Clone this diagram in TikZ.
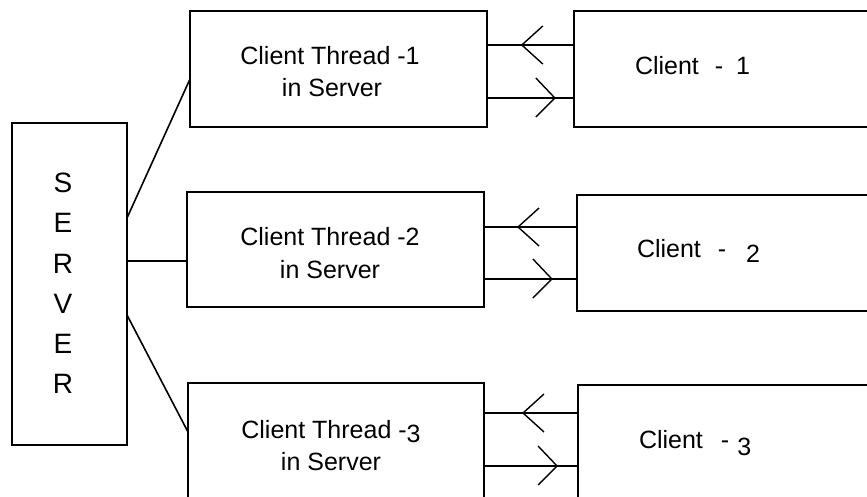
\documentclass[tikz,border=0pt]{standalone}
\usepackage{fontspec}
\setmainfont{Liberation Sans}
\usetikzlibrary{calc}
\begin{document}
\begin{tikzpicture}[x=1pt,y=-1pt,
  every node/.style={inner sep=0pt, outer sep=0pt},
  box/.style={draw, line width=1.8pt, anchor=north west},
  wire/.style={line width=1.6pt},
  txt/.style={font=\fontsize{25}{30}\selectfont},
  bigtxt/.style={font=\fontsize{28}{30}\selectfont},
  chevl/.pic={\draw[line width=1.4pt] (21,-19) -- (0,0) -- (21,19);},
  chevr/.pic={\draw[line width=1.4pt] (-19,-20) -- (0,0) -- (-19,19);}
]
\useasboundingbox (0,0) rectangle (867,497);
\fill[white] (0,0) rectangle (867,497);
\clip (0,0) rectangle (867,497);

% server column
\node[box, minimum width=115pt, minimum height=322pt] (srv) at (12,123) {};
\foreach \l [count=\i] in {S,E,R,V,E,R}
  \node[bigtxt, anchor=base] (srvl\i) at (63,153+40*\i) {\l};

% per-client threads inside the server
\node[box, minimum width=297pt, minimum height=116pt] (t1) at (190,11) {};
\node[box, minimum width=297pt, minimum height=115pt] (t2) at (187,192) {};
\node[box, minimum width=296pt, minimum height=140pt] (t3) at (188,383) {};

% clients (running past the right edge)
\node[box, minimum width=320pt, minimum height=116pt] (c1) at (574,11) {};
\node[box, minimum width=320pt, minimum height=116pt] (c2) at (577,195) {};
\node[box, minimum width=320pt, minimum height=140pt] (c3) at (578,385) {};

% server to threads
\draw[wire] ($(srv.north east)+(0,95)$) -- ($(t1.north west)+(0,68)$);
\draw[wire] ($(srv.north east)+(0,138)$) -- ($(t2.north west)+(0,69)$);
\draw[wire] ($(srv.north east)+(0,192)$) -- ($(t3.north west)+(0,49)$);

% request / response lines between threads and clients
\draw[wire] ($(t1.north east)+(0,34)$) -- ($(c1.north west)+(0,34)$) pic[pos=.40]{chevl};
\draw[wire] ($(t1.north east)+(0,87)$) -- ($(c1.north west)+(0,87)$) pic[pos=.78]{chevr};
\draw[wire] ($(t2.north east)+(0,35)$) -- ($(c2.north west)+(0,32)$) pic[pos=.366]{chevl};
\draw[wire] ($(t2.north east)+(0,87)$) -- ($(c2.north west)+(0,84)$) pic[pos=.73]{chevr};
\draw[wire] ($(t3.north east)+(0,30)$) -- ($(c3.north west)+(0,28)$) pic[pos=.415]{chevl};
\draw[wire] ($(t3.north east)+(0,83)$) -- ($(c3.north west)+(0,81)$) pic[pos=.777]{chevr};

% labels
\node[txt, anchor=base] (t1a) at (330,65) {Client Thread -1};
\node[txt, anchor=base] (t1b) at (332,97) {in Server};
\node[txt, anchor=base] (t2a) at (330,245) {Client Thread -2};
\node[txt, anchor=base] (t2b) at (330,278) {in Server};
\node[txt, anchor=base] (t3a) at (331,438) {Client Thread -\raisebox{-4pt}{3}};
\node[txt, anchor=base] (t3b) at (331,470) {in Server};

\node[txt, anchor=base west] (c1t) at (635,75) {Client\hspace{16pt}-\hspace{13pt}1};
\node[txt, anchor=base west] (c2t) at (637,257) {Client\hspace{17pt}-\hspace{20pt}\raisebox{-5pt}{2}};
\node[txt, anchor=base west] (c3t) at (639,448) {Client\hspace{18pt}-\hspace{8pt}\raisebox{-7pt}{3}};
\end{tikzpicture}
\end{document}
